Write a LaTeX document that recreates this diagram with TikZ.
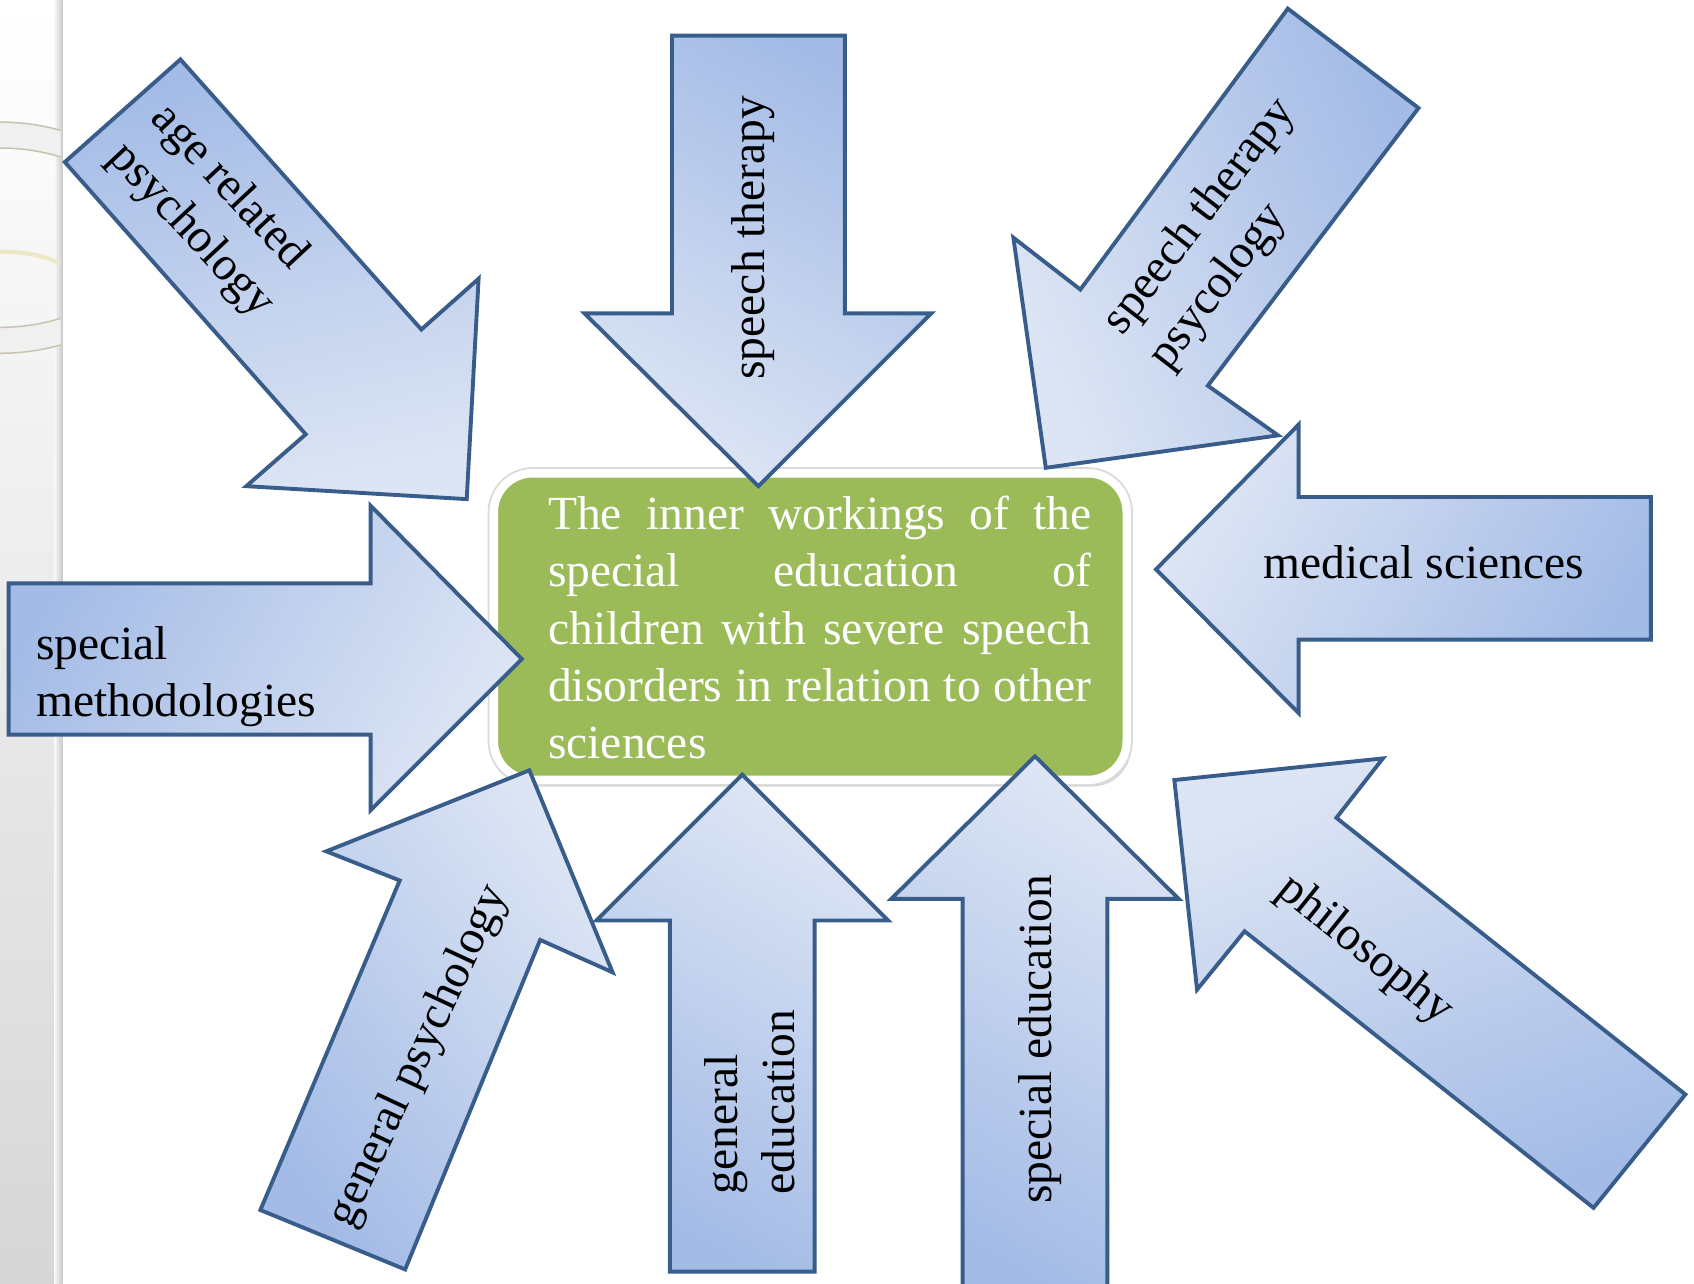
\documentclass[tikz,border=0pt]{standalone}
\usepackage{fontspec}
\setmainfont{Liberation Serif}
\usetikzlibrary{shadows}

\definecolor{arrowline}{RGB}{56,93,138}
\definecolor{arrowdark}{RGB}{163,187,230}
\definecolor{arrowlight}{RGB}{221,229,244}
\definecolor{boxgreen}{RGB}{155,187,89}
\definecolor{ringedge}{RGB}{200,195,172}
\definecolor{ringglow}{RGB}{236,232,200}

\begin{document}
\begin{tikzpicture}
    [x=0.5pt,y=-0.5pt,
     blockarrow/.style={draw=arrowline,line width=1.8pt,line join=miter,
       bottom color=arrowdark,top color=arrowlight,shading angle=#1},
     arrowtext/.style={font=\fontsize{22}{26.5}\selectfont,inner sep=0pt},
     greenbox/.style={draw=white,line width=4pt,fill=boxgreen,rounded corners=18pt,
       drop shadow={opacity=0.3,shadow xshift=2pt,shadow yshift=-3pt}}]

    \useasboundingbox (0,0) rectangle (1568,1188);

    % side strip with the ring
    \shade[top color=white,bottom color=black!16] (0,0) rectangle (58,1188);
    \shade[left color=black!2,right color=black!22] (50,0) rectangle (58,1188);
    \begin{scope}
        \clip (0,0) rectangle (56,1188);
        \fill[black!6,even odd rule] (0,220) ellipse [x radius=150,y radius=107]
                                      (0,220) ellipse [x radius=128,y radius=83];
        \draw[ringedge,line width=0.7pt] (0,220) ellipse [x radius=150,y radius=107];
        \draw[ringedge,line width=0.7pt] (0,220) ellipse [x radius=128,y radius=83];
        \draw[ringglow,line width=2pt] (0,233) .. controls (25,233) and (42,237) .. (58,245);
    \end{scope}

    % centre box
    \node (core) [greenbox,minimum width=293pt,minimum height=142pt] at (750,580) {};
    \draw[black!15,line width=0.8pt,rounded corners=20.5pt]
        ([shift={(-0.4pt,0.4pt)}]core.north west) rectangle ([shift={(0.4pt,-0.4pt)}]core.south east);
    \node (coretext) [anchor=west,inner sep=0pt,align=left,text=white,
        font=\fontsize{22}{26.5}\selectfont] at (507,581)
        {\makebox[251.5pt][s]{The inner workings of the}\\
         \makebox[251.5pt][s]{special education of}\\
         \makebox[251.5pt][s]{children with severe speech}\\
         \makebox[251.5pt][s]{disorders in relation to other}\\
         sciences};

    % arrows
    \path[blockarrow=-168.5] (167,55) -- (390,305) -- (443,258) -- (432,462)
        -- (228,450) -- (283,402) -- (60,150) -- cycle;
    \path[blockarrow=150] (622,33) -- (782,33) -- (782,290) -- (862,290)
        -- (702,450) -- (541,290) -- (622,290) -- cycle;
    \path[blockarrow=113] (1192,8) -- (1313,100) -- (1118,357) -- (1183,403)
        -- (968,433) -- (938,220) -- (1000,268) -- cycle;
    \path[blockarrow=60] (1528,460) -- (1528,592) -- (1202,592) -- (1202,660)
        -- (1070,527) -- (1202,393) -- (1202,460) -- cycle;
    \path[blockarrow=-120] (8,540) -- (343,540) -- (343,468) -- (483,610)
        -- (343,750) -- (343,680) -- (8,680) -- cycle;
    \path[blockarrow=-53] (241,1120) -- (370,815) -- (302,788) -- (490,713)
        -- (567,900) -- (500,870) -- (375,1175) -- cycle;
    \path[blockarrow=-30] (620,1177) -- (620,852) -- (552,852) -- (687,717)
        -- (822,852) -- (754,852) -- (754,1177) -- cycle;
    \path[blockarrow=-30] (891,1196) -- (891,832) -- (825,832) -- (958,700)
        -- (1091,832) -- (1025,832) -- (1025,1196) -- cycle;
    \path[blockarrow=21] (1560,1013) -- (1237,757) -- (1280,702) -- (1087,722)
        -- (1108,916) -- (1152,862) -- (1475,1118) -- cycle;

    % arrow texts
    \node (agepsy) [arrowtext,align=left,rotate=-47] at (196,196) {age related\\psychology};
    \node (speech) [arrowtext,rotate=90] at (697,220) {speech therapy};
    \node (speechpsy) [arrowtext,align=left,rotate=52.5] at (1132,217) {speech therapy\\psycology};
    \node (medical) [arrowtext] at (1318,520) {medical sciences};
    \node (methods) [arrowtext,align=left,anchor=west] at (33,626) {special\\methodologies};
    \node (genpsy) [arrowtext,rotate=65] at (388,978) {general psychology};
    \node (genedu) [arrowtext,align=left,rotate=90] at (694,1020) {general\\education};
    \node (specedu) [arrowtext,rotate=90] at (963,962) {special education};
    \node (philo) [arrowtext,rotate=-38.8] at (1263,880) {philosophy};
\end{tikzpicture}
\end{document}
